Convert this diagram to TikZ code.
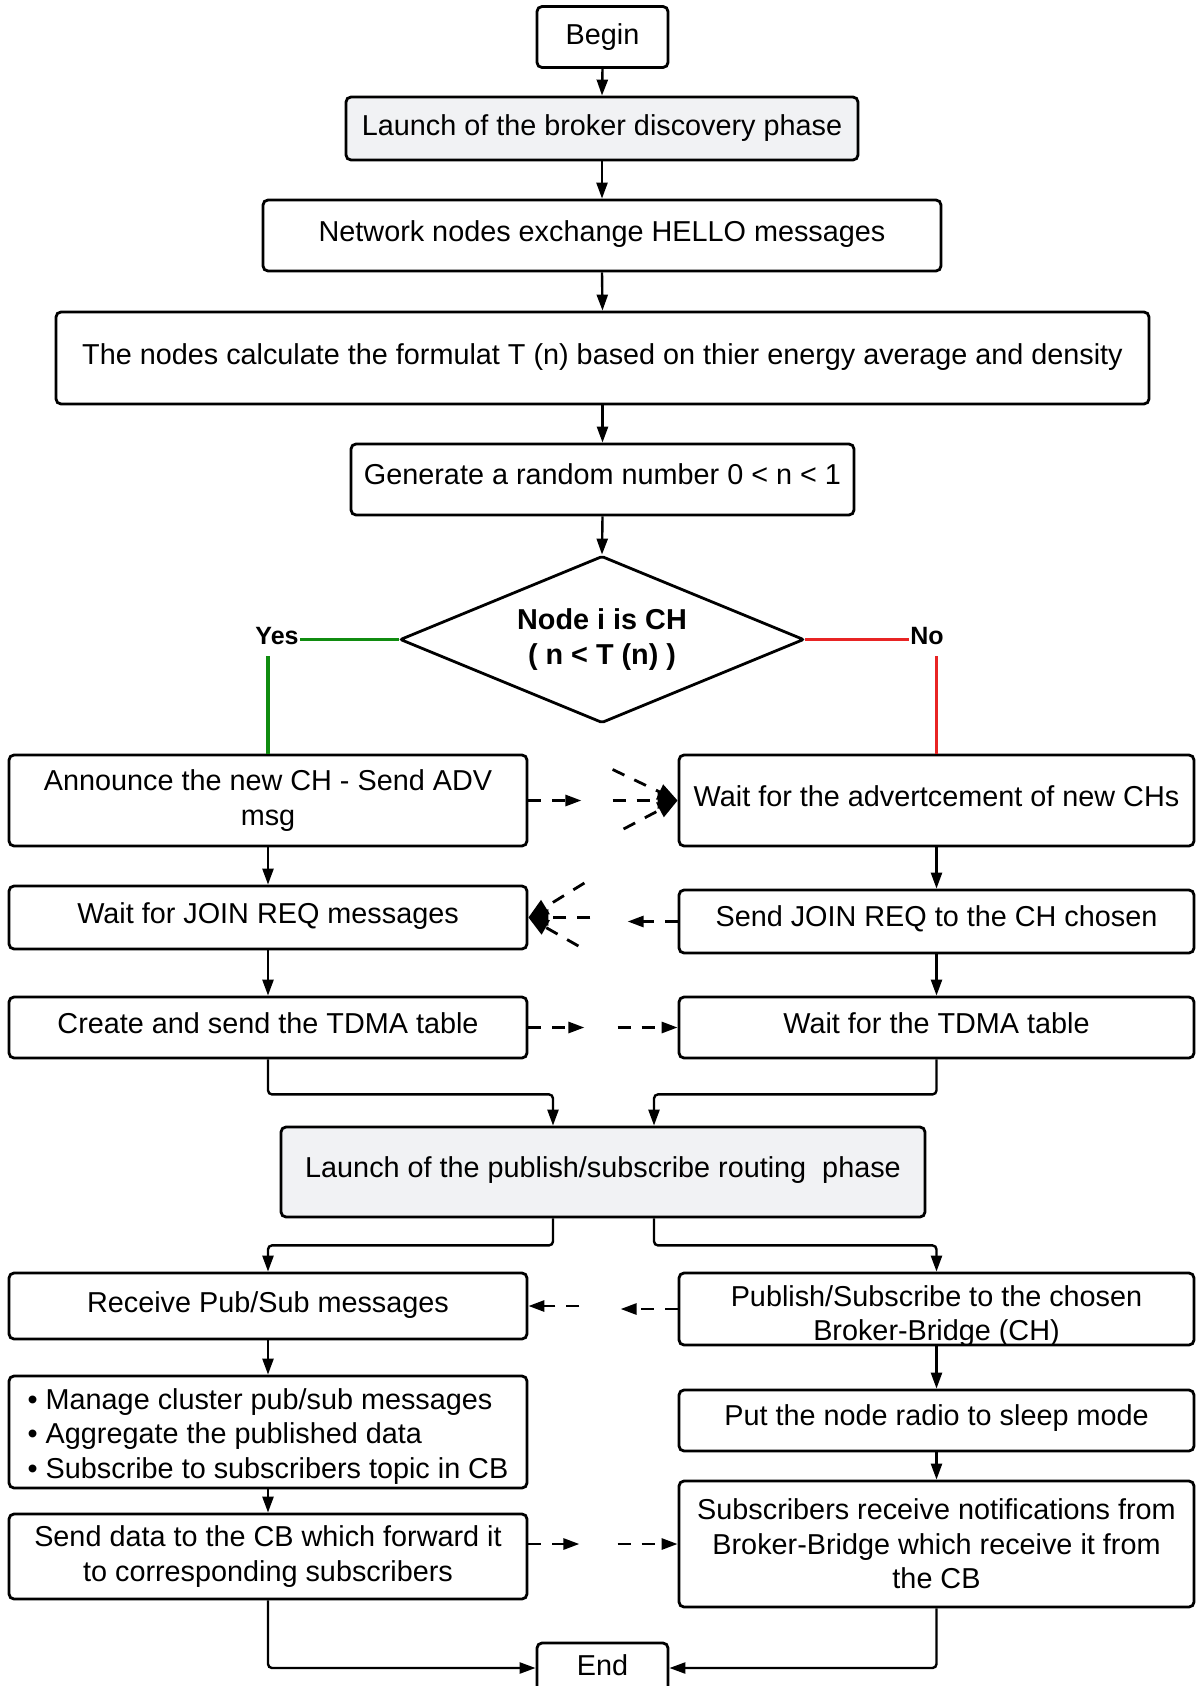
\documentclass[tikz,border=0pt]{standalone}
\usepackage{fontspec}
\setmainfont{Liberation Sans}
\usetikzlibrary{arrows.meta,shapes.geometric,calc}
\definecolor{phasefill}{RGB}{241,242,244}
\definecolor{yesgreen}{RGB}{16,140,16}
\definecolor{nored}{RGB}{232,36,36}
\begin{document}
\begin{tikzpicture}[x=1pt,y=-1pt,
  font=\fontsize{28.8}{34.5}\selectfont,
  box/.style={draw, line width=2.8pt, rounded corners=5pt, inner sep=2pt,
    align=center, fill=white},
  phase/.style={box, fill=phasefill},
  lcol/.style={minimum width=518pt},
  rcol/.style={minimum width=515pt},
  % single-line labels sit a little above the middle of their box
  raised/.style={text height=21pt, text depth=#1},
  conn/.style={line width=2.4pt, -{Triangle[length=16pt,width=11pt]}},
  elbow/.style={conn, rounded corners=4pt},
  dconn/.style={conn, line width=2.8pt, dash pattern=on 13pt off 11pt},
  fan/.style={line width=2.8pt, dash pattern=on 13pt off 11pt,
    -{Triangle[length=20pt,width=16pt]}},
  branch/.style={line width=3.6pt},
  answer/.style={font=\fontsize{25}{30}\selectfont\bfseries, inner sep=1pt}]

\useasboundingbox (0,0) rectangle (1196,1686);

% ---- main trunk ----
\node[box, minimum width=131pt, minimum height=61pt] (begin) at (602.5,37) {Begin};
\node[phase, minimum width=512pt, minimum height=63pt] (broker) at (602,128.5)
  {Launch of the broker discovery phase};
\node[box, raised=10pt, minimum width=678pt, minimum height=71pt] (hello) at (602,235.5)
  {Network nodes exchange HELLO messages};
\node[box, raised=8pt, minimum width=1093pt, minimum height=92pt] (formula) at (602.5,358)
  {The nodes calculate the formulat T (n) based on thier energy average and density};
\node[box, raised=10.5pt, minimum width=503pt, minimum height=71pt] (rand) at (602.5,479.5)
  {Generate a random number 0 < n < 1};
\node[draw, diamond, line width=2.8pt, rounded corners=2pt, shape aspect=2.42,
  minimum width=404pt, minimum height=167pt, inner sep=0pt, align=center,
  font=\fontsize{28.8}{34.5}\selectfont\bfseries] (isch) at (602,639.5)
  {Node i is CH\\( n < T (n) )};

\node[answer] (yes) at (277,636) {Yes};
\node[answer] (no) at (927,636) {No};

% ---- cluster head side ----
\node[box, lcol, minimum height=91pt] (annc) at (268,800.5)
  {Announce the new CH - Send ADV\\msg};
\node[box, lcol, raised=10pt, minimum height=63pt] (waitjoin) at (268,917.5)
  {Wait for JOIN REQ messages};
\node[box, lcol, raised=8.5pt, minimum height=61pt] (mktdma) at (268,1027.5)
  {Create and send the TDMA table};

% ---- member side ----
\node[box, rcol, raised=8.5pt, minimum height=91pt] (waitadv) at (936.5,800.5)
  {Wait for the advertcement of new CHs};
\node[box, rcol, raised=10.5pt, minimum height=63pt] (sendjoin) at (936.5,921.5)
  {Send JOIN REQ to the CH chosen};
\node[box, rcol, raised=8.5pt, minimum height=61pt] (waittdma) at (936.5,1027.5)
  {Wait for the TDMA table};

% ---- routing phase ----
\node[phase, raised=10.5pt, minimum width=644pt, minimum height=90pt] (pubsub) at (603,1172)
  {Launch of the publish/subscribe routing\ \ phase};

\node[box, lcol, raised=8pt, minimum height=66pt] (recv) at (268,1306)
  {Receive Pub/Sub messages};
\node[box, lcol, minimum height=112pt] (manage) at (268,1432) {};
\node[align=left, inner sep=0pt] (managetext) at (268,1436.5)
  {• Manage cluster pub/sub messages\\• Aggregate the published data\\• Subscribe to subscribers topic in CB};
\node[box, lcol, minimum height=85pt] (senddata) at (268,1556.5)
  {Send data to the CB which forward it\\to corresponding subscribers};

\node[box, rcol, minimum height=72pt] (pubto) at (936.5,1309) {};
\node[align=center, inner sep=0pt] (pubtotext) at (936.5,1316)
  {Publish/Subscribe to the chosen\\Broker-Bridge (CH)};
\node[box, rcol, raised=10.5pt, minimum height=61pt] (sleep) at (936.5,1420.5)
  {Put the node radio to sleep mode};
\node[box, rcol, minimum height=126pt] (notify) at (936.5,1544)
  {Subscribers receive notifications from\\Broker-Bridge which receive it from\\the CB};

\node[box, raised=6pt, minimum width=131pt, minimum height=50pt] (finish) at (602.5,1668) {End};

% ---- trunk arrows ----
\draw[conn] (begin.south) -- (broker.north);
\draw[conn] (broker.south) -- (hello.north);
\draw[conn] (hello.south) -- (formula.north);
\draw[conn] (formula.south) -- (rand.north);
\draw[conn] (rand.south) -- (isch.north);

% ---- decision branches ----
\coordinate (yesdrop) at (annc.north |- 0,656);
\coordinate (nodrop) at (waitadv.north |- 0,656);
\draw[branch, yesgreen] (isch.west) -- (isch.west -| yes.east);
\draw[branch, yesgreen] (yesdrop) -- (annc.north);
\draw[branch, nored] (isch.east) -- (isch.east -| no.west);
\draw[branch, nored] (nodrop) -- (waitadv.north);

% ---- column arrows ----
\draw[conn] (annc.south) -- (waitjoin.north);
\draw[conn] (waitjoin.south) -- (mktdma.north);
\draw[conn] (waitadv.south) -- (sendjoin.north);
\draw[conn] (sendjoin.south) -- (waittdma.north);

\coordinate (psinL) at ([xshift=-50pt]pubsub.north);
\coordinate (psinR) at ([xshift=51pt]pubsub.north);
\coordinate (psoutL) at ([xshift=-50pt]pubsub.south);
\coordinate (psoutR) at ([xshift=51pt]pubsub.south);
\draw[elbow] (mktdma.south) -- ++(0,35) -| (psinL);
\draw[elbow] (waittdma.south) -- ++(0,35) -| (psinR);
\draw[elbow] (psoutL) -- ++(0,27) -| (recv.north);
\draw[elbow] (psoutR) -- ++(0,27) -| (pubto.north);

\draw[conn] (recv.south) -- (manage.north);
\draw[conn] (manage.south) -- (senddata.north);
\draw[conn] (pubto.south) -- (sleep.north);
\draw[conn] (sleep.south) -- (notify.north);

\draw[elbow] (senddata.south) |- (finish.west);
\draw[elbow] (notify.south) |- (finish.east);

% ---- messages between cluster head and members ----
% ADV broadcast
\coordinate (advout) at ($(annc.east)+(53,0)$);
\draw[dconn] (annc.east) -- (advout);
\coordinate (advinA) at ($(waitadv.west)+(-65,-31)$);
\coordinate (advinB) at ($(waitadv.west)+(-65,0)$);
\coordinate (advinC) at ($(waitadv.west)+(-54,28.5)$);
\draw[fan] (advinA) -- (waitadv.west);
\draw[fan] (advinB) -- (waitadv.west);
\draw[fan] (advinC) -- (waitadv.west);

% JOIN REQ
\coordinate (joinout) at ($(sendjoin.west)+(-50,0)$);
\draw[dconn] (sendjoin.west) -- (joinout);
\coordinate (joininA) at ($(waitjoin.east)+(56,-34.5)$);
\coordinate (joininB) at ($(waitjoin.east)+(62,0)$);
\coordinate (joininC) at ($(waitjoin.east)+(50,28.5)$);
\draw[fan] (joininA) -- (waitjoin.east);
\draw[fan] (joininB) -- (waitjoin.east);
\draw[fan] (joininC) -- (waitjoin.east);

% TDMA table
\coordinate (tdmaout) at ($(mktdma.east)+(56,0)$);
\coordinate (tdmain) at ($(waittdma.west)+(-60,0)$);
\draw[dconn] (mktdma.east) -- (tdmaout);
\draw[dconn] (tdmain) -- (waittdma.west);

% Pub/Sub messages
\coordinate (psmsgin) at ($(recv.east)+(51,0)$);
\coordinate (psmsgout) at ($(pubto.west)+(-57,0)$);
\draw[dconn] (psmsgin) -- (recv.east);
\draw[dconn] (pubto.west) -- (psmsgout);

% Data towards subscribers
\coordinate (dataout) at ($(senddata.east |- notify.west)+(51,0)$);
\coordinate (datain) at ($(notify.west)+(-60,0)$);
\draw[dconn] (senddata.east |- notify.west) -- (dataout);
\draw[dconn] (datain) -- (notify.west);

\end{tikzpicture}
\end{document}
